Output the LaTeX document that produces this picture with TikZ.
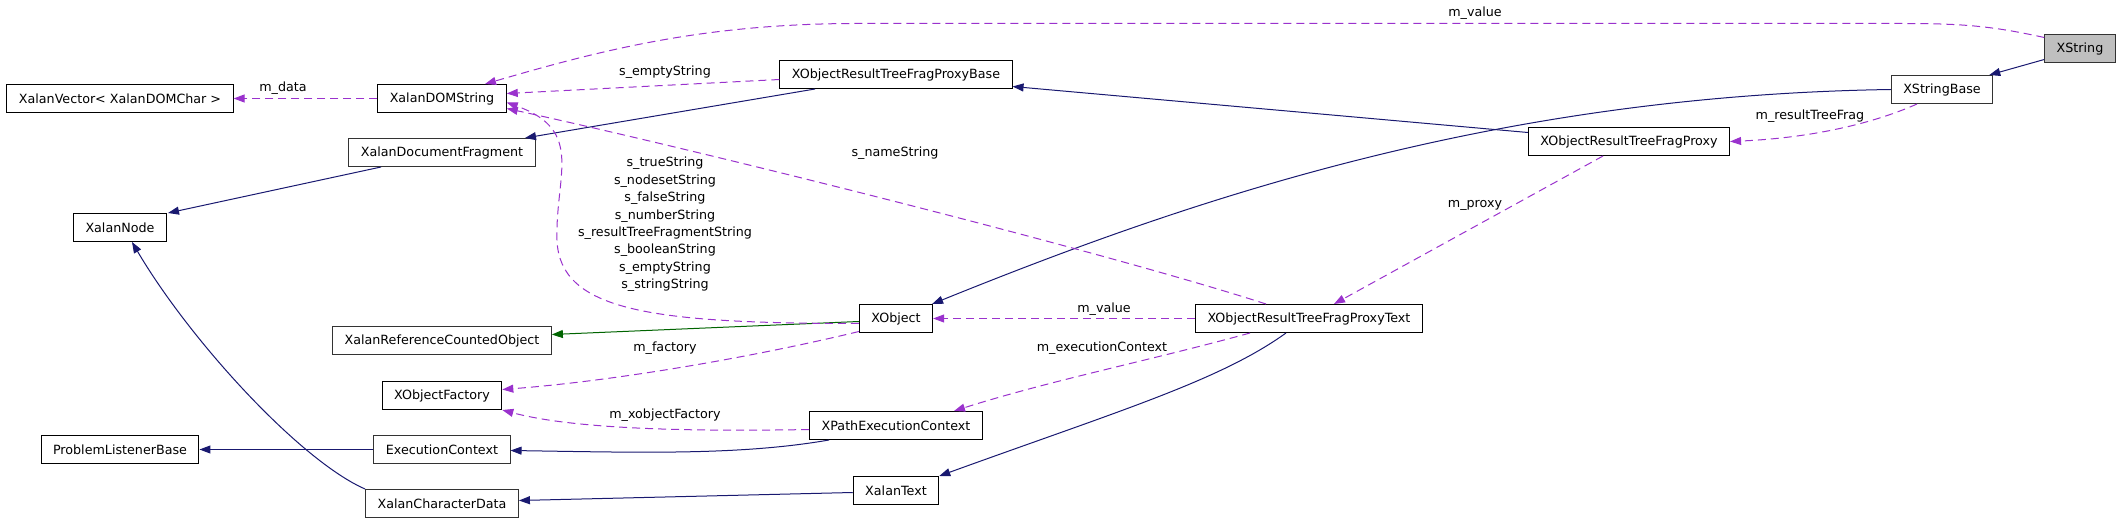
\documentclass[tikz,border=0pt]{standalone}
\usepackage{fontspec}
\setmainfont{DejaVu Sans}
\usetikzlibrary{arrows.meta}
\definecolor{inhblue}{HTML}{191970}
\definecolor{mbrpurple}{HTML}{9A32CD}
\definecolor{refgreen}{HTML}{006400}
\definecolor{selgray}{HTML}{BFBFBF}

\begin{document}
\begin{tikzpicture}[x=1bp, y=-1bp,
  font=\fontsize{12.7bp}{15bp}\selectfont,
  cls/.style={draw=black, line width=1bp, inner xsep=12bp, inner ysep=0pt, minimum height=28bp},
  clsg/.style={cls, draw=black!80},
  tip/.style={-{Triangle[length=11bp,width=8bp]}},
  inherit/.style={tip, draw=inhblue, line width=1bp},
  member/.style={tip, draw=mbrpurple, line width=1bp, dash pattern=on 8bp off 5bp},
  lbl/.style={inner sep=0pt}]
\useasboundingbox (0,0) rectangle (2123,523);
\begin{scope}[yshift=-0.5bp]
% classes, column by column from the right
\node[clsg, fill=selgray] (xstr) at (2080,48) {XString};
\node[clsg] (xsb) at (1942,89) {XStringBase};
\node[cls] (proxy) at (1629,141) {XObjectResultTreeFragProxy};
\node[cls] (ptext) at (1309,318) {XObjectResultTreeFragProxyText};
\node[cls] (pbase) at (896,74) {XObjectResultTreeFragProxyBase};
\node[cls] (xobj) at (896,318) {XObject};
\node[cls] (xpec) at (896,425) {XPathExecutionContext};
\node[cls] (xtext) at (896,490) {XalanText};
\node[cls] (xds) at (442,98) {XalanDOMString};
\node[clsg] (xdf) at (442,152) {XalanDocumentFragment};
\node[clsg] (xrco) at (442,340) {XalanReferenceCountedObject};
\node[cls] (xof) at (442,395) {XObjectFactory};
\node[clsg] (ectx) at (442,449) {ExecutionContext};
\node[clsg] (xcd) at (442,503) {XalanCharacterData};
\node[cls] (xvec) at (120,98) {XalanVector< XalanDOMChar >};
\node[cls] (xnode) at (120,227) {XalanNode};
\node[cls] (plb) at (120,449) {ProblemListenerBase};

% inheritance
\draw[inherit] ([yshift=-11bp]xstr.west) -- ([xshift=-4bp]xsb.north east);
\draw[inherit] (xsb.west) .. controls (1500,95) and (1200,195) .. ([xshift=-1bp]xobj.north east);
\draw[inherit] ([yshift=9bp]proxy.west) -- ([yshift=-12bp]pbase.east);
\draw[inherit] ([xshift=-81bp]pbase.south) -- ([xshift=83bp]xdf.north);
\draw[inherit] ([xshift=-61bp]xdf.south) -- ([xshift=48bp]xnode.north);
\draw[inherit] (xcd.north west) .. controls (300,460) and (190,340) .. ([xshift=12bp]xnode.south);
\draw[inherit] ([xshift=-67bp]xpec.south) .. controls (740,455) and (640,452) .. ([yshift=-1bp]ectx.east);
\draw[inherit] (ectx.west) -- (plb.east);
\draw[inherit] ([xshift=-23bp]ptext.south) .. controls (1220,380) and (1120,410) .. (xtext.north east);
\draw[inherit] ([yshift=-2bp]xtext.west) -- ([yshift=3bp]xcd.east);
\draw[tip, draw=refgreen, line width=1bp] ([yshift=-3bp]xobj.west) -- ([yshift=6bp]xrco.east);

% members
\draw[member] ([yshift=11bp]xstr.west) .. controls (1990,25) and (1960,23) .. (1900,23)
  -- (850,23) .. controls (700,24) and (600,50) .. ([xshift=43bp]xds.north);
\draw[member] ([xshift=-25bp]xsb.south) .. controls (1880,120) and (1820,137) .. (proxy.east);
\draw[member] ([xshift=-26bp]proxy.south) -- ([xshift=25bp]ptext.north);
\draw[member] ([yshift=-5bp]pbase.west) -- ([yshift=5bp]xds.east);
\draw[member] ([xshift=-43bp]ptext.north) .. controls (1100,250) and (700,150) .. ([yshift=-10bp]xds.east);
\draw[member] ([yshift=-5bp]xobj.west) .. controls (650,323) and (560,310) .. (557,240)
  .. controls (555,175) and (585,130) .. ([yshift=-4bp]xds.east);
\draw[member] ([yshift=-13bp]xobj.west) .. controls (760,355) and (620,380) .. ([yshift=6bp]xof.east);
\draw[member] ([yshift=-4bp]xpec.west) .. controls (650,432) and (560,425) .. (xof.south east);
\draw[member] (ptext.west) -- (xobj.east);
\draw[member] ([xshift=-59bp]ptext.south) .. controls (1150,360) and (1050,380) .. ([xshift=58bp]xpec.north);
\draw[member] (xds.west) -- (xvec.east);

% member names
\node[lbl] (l-value) at (1475,13) {m\_value};
\node[lbl] (l-rtf) at (1810,116) {m\_resultTreeFrag};
\node[lbl] (l-proxy) at (1475,205) {m\_proxy};
\node[lbl] (l-empty) at (665,72) {s\_emptyString};
\node[lbl] (l-name) at (895,153) {s\_nameString};
\node[lbl, align=center, font=\fontsize{12.7bp}{17.4bp}\selectfont] (l-strings) at (665,224)
  {s\_trueString\\s\_nodesetString\\s\_falseString\\s\_numberString\\
   s\_resultTreeFragmentString\\s\_booleanString\\s\_emptyString\\s\_stringString};
\node[lbl] (l-factory) at (665,348) {m\_factory};
\node[lbl] (l-xof) at (665,415) {m\_xobjectFactory};
\node[lbl] (l-xvalue) at (1104,309) {m\_value};
\node[lbl] (l-ectx) at (1102,348) {m\_executionContext};
\node[lbl] (l-data) at (283,88) {m\_data};
\end{scope}
\end{tikzpicture}
\end{document}
